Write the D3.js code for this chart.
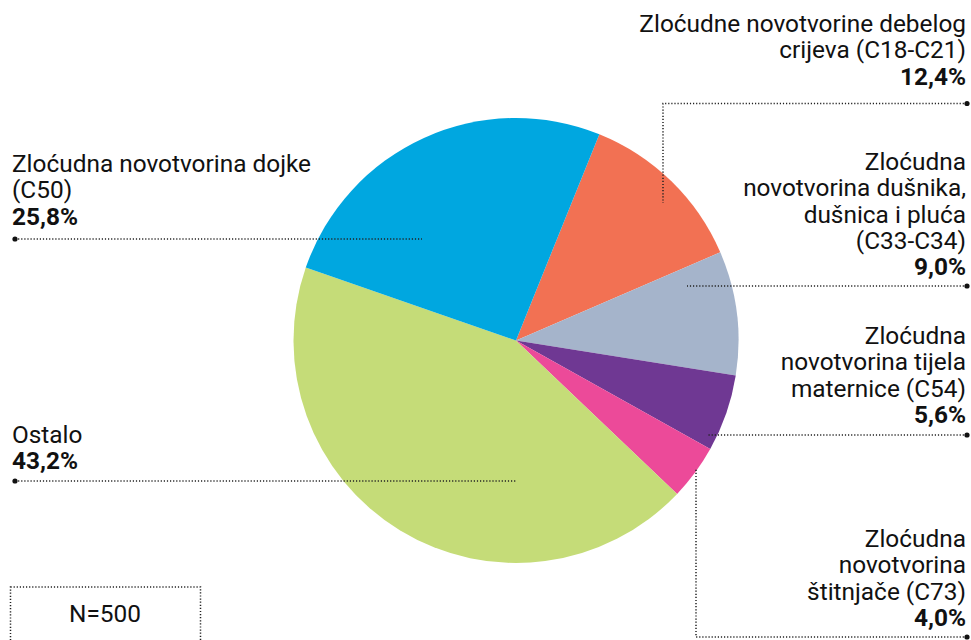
<!DOCTYPE html>
<html>
<head>
<meta charset="utf-8">
<script src="https://cdn.jsdelivr.net/npm/d3@7"></script>
<style>
  html, body { margin: 0; padding: 0; background: #fff; }
  svg { display: block; font-family: Roboto, "Liberation Sans", sans-serif; }
  .lbl { font-size: 24.4px; fill: #111; }
  .pct { font-weight: 700; }
  .leader { fill: none; stroke: #222; stroke-width: 1.5; stroke-dasharray: 1.2 1.9; }
</style>
</head>
<body>
<div id="chart"></div>
<script>
// Data (order of the slices, clockwise from the top-right)
const categories = [
  "Zloćudne novotvorine debelog crijeva (C18-C21)",
  "Zloćudna novotvorina dušnika, dušnica i pluća (C33-C34)",
  "Zloćudna novotvorina tijela maternice (C54)",
  "Zloćudna novotvorina štitnjače (C73)",
  "Ostalo",
  "Zloćudna novotvorina dojke (C50)"
];
const values = [12.4, 9.0, 5.6, 4.0, 43.2, 25.8];
const colors = ["#f27153", "#a5b4cb", "#6f3893", "#ec4a99", "#c5dc78", "#00a7e0"];
const sampleLabel = "N=500";

// Label text lines (as printed) for each slice
const labelLines = [
  ["Zloćudne novotvorine debelog", "crijeva (C18-C21)"],
  ["Zloćudna", "novotvorina dušnika,", "dušnica i pluća", "(C33-C34)"],
  ["Zloćudna", "novotvorina tijela", "maternice (C54)"],
  ["Zloćudna", "novotvorina", "štitnjače (C73)"],
  ["Ostalo"],
  ["Zloćudna novotvorina dojke", "(C50)"]
];

const width = 971, height = 640;
const cx = 516, cy = 340.5, radius = 222.5;
const lineH = 26.3;

// layout of the annotations: text position, leader polyline (dot at first point)
const layout = [
  { x: 966, y: 32, anchor: "end", leader: [[967, 103.5], [663, 103.5], [663, 203]] },
  { x: 966, y: 170, anchor: "end", leader: [[967, 286], [687, 286]] },
  { x: 966, y: 344, anchor: "end", leader: [[967, 435], [708, 435]] },
  { x: 966, y: 547, anchor: "end", leader: [[967, 637], [696, 637], [696, 468]] },
  { x: 12, y: 443, anchor: "start", leader: [[15, 481], [516, 481]] },
  { x: 12, y: 172, anchor: "start", leader: [[15, 239], [422, 239]] }
];

const fmt = v => v.toFixed(1).replace(".", ",") + "%";

const svg = d3.select("#chart").append("svg")
  .attr("width", width)
  .attr("height", height);

const pie = d3.pie()
  .sort(null)
  .value(d => d)
  .startAngle(22 * Math.PI / 180)
  .endAngle(22 * Math.PI / 180 + 2 * Math.PI);

const arc = d3.arc().innerRadius(0).outerRadius(radius);

svg.append("g")
  .attr("transform", `translate(${cx},${cy})`)
  .selectAll("path")
  .data(pie(values))
  .enter()
  .append("path")
  .attr("d", arc)
  .attr("fill", (d, i) => colors[i]);

// leaders
const line = d3.line();
const ann = svg.append("g");
layout.forEach((l, i) => {
  ann.append("path").attr("class", "leader").attr("d", line(l.leader));
  ann.append("circle")
    .attr("cx", l.leader[0][0]).attr("cy", l.leader[0][1])
    .attr("r", 2.6).attr("fill", "#111");

  const t = ann.append("text")
    .attr("class", "lbl")
    .attr("text-anchor", l.anchor);
  labelLines[i].forEach((s, j) => {
    t.append("tspan").attr("x", l.x).attr("y", l.y + j * lineH).text(s);
  });
  t.append("tspan")
    .attr("class", "pct")
    .attr("x", l.x)
    .attr("y", l.y + labelLines[i].length * lineH)
    .text(fmt(values[i]));
});

// sample size box
svg.append("rect")
  .attr("class", "leader")
  .attr("x", 10.5).attr("y", 587)
  .attr("width", 190).attr("height", 80);
svg.append("text")
  .attr("class", "lbl")
  .attr("x", 105).attr("y", 622)
  .attr("text-anchor", "middle")
  .text(sampleLabel);
</script>
</body>
</html>
